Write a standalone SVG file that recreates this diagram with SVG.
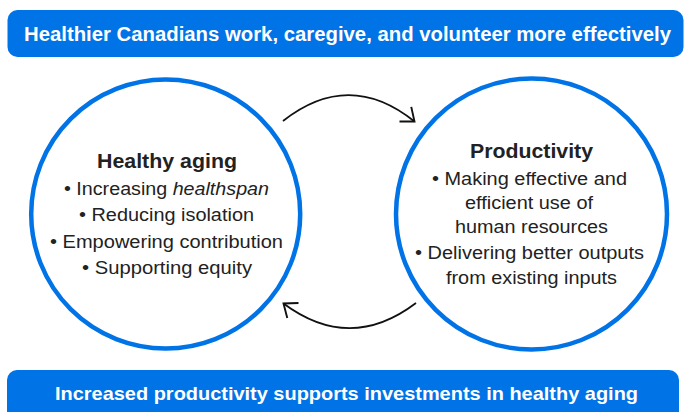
<svg xmlns="http://www.w3.org/2000/svg" width="684" height="412" viewBox="0 0 684 412">
<style>
.banner{fill:#0073e6}
.btxt{fill:#ffffff;font-family:"Liberation Sans",Arial,sans-serif;font-weight:bold;text-anchor:middle}
.ring{fill:#ffffff;stroke:#0073e6;stroke-width:4.5}
.title{fill:#222222;font-family:"Liberation Sans",Arial,sans-serif;font-weight:bold;font-size:21px;text-anchor:middle}
.body{fill:#222222;font-family:"Liberation Sans",Arial,sans-serif;font-size:17.5px;text-anchor:middle}
.arc{fill:none;stroke:#111111;stroke-width:1.8;marker-end:url(#open)}
</style>
<defs>
<marker id="open" markerUnits="userSpaceOnUse" markerWidth="30" markerHeight="30" viewBox="-15 -15 30 30" refX="0" refY="0" orient="auto">
<path d="M-11.7,-9.4 L0,0 L-11.7,9.4" fill="none" stroke="#111111" stroke-width="1.9" stroke-linejoin="miter"/>
</marker>
</defs>
<rect width="684" height="412" fill="#ffffff"/>
<g id="top-banner">
<rect class="banner" x="7.5" y="10" width="676" height="47" rx="10"/>
<text class="btxt" x="347.5" y="41" font-size="20" textLength="647" lengthAdjust="spacingAndGlyphs">Healthier Canadians work, caregive, and volunteer more effectively</text>
</g>
<g id="bottom-banner">
<rect class="banner" x="7" y="370" width="672" height="60" rx="10"/>
<text class="btxt" x="346.5" y="400" font-size="19" textLength="583" lengthAdjust="spacingAndGlyphs">Increased productivity supports investments in healthy aging</text>
</g>
<g id="connectors">
<path class="arc" d="M283,121 Q349,69 414.5,121.5"/>
<path class="arc" d="M416,303 Q350,353 283.5,303.5"/>
</g>
<g id="healthy-aging">
<circle class="ring" cx="165.7" cy="214" r="134.5"/>
<text class="title" x="167" y="168" textLength="140" lengthAdjust="spacingAndGlyphs">Healthy aging</text>
<text class="body" x="166.5" y="195" textLength="205" lengthAdjust="spacingAndGlyphs">• Increasing <tspan font-style="italic">healthspan</tspan></text>
<text class="body" x="166.5" y="221" textLength="175" lengthAdjust="spacingAndGlyphs">• Reducing isolation</text>
<text class="body" x="166.5" y="248" textLength="233" lengthAdjust="spacingAndGlyphs">• Empowering contribution</text>
<text class="body" x="167" y="274" textLength="170" lengthAdjust="spacingAndGlyphs">• Supporting equity</text>
</g>
<g id="productivity">
<circle class="ring" cx="531.5" cy="214" r="135.5"/>
<text class="title" x="531.5" y="158" textLength="123" lengthAdjust="spacingAndGlyphs">Productivity</text>
<text class="body" x="529.5" y="185" textLength="195" lengthAdjust="spacingAndGlyphs">• Making effective and</text>
<text class="body" x="529" y="208.5" textLength="128" lengthAdjust="spacingAndGlyphs">efficient use of</text>
<text class="body" x="531.5" y="233" textLength="153" lengthAdjust="spacingAndGlyphs">human resources</text>
<text class="body" x="529.5" y="259" textLength="229" lengthAdjust="spacingAndGlyphs">• Delivering better outputs</text>
<text class="body" x="531.5" y="283.5" textLength="171" lengthAdjust="spacingAndGlyphs">from existing inputs</text>
</g>
</svg>
